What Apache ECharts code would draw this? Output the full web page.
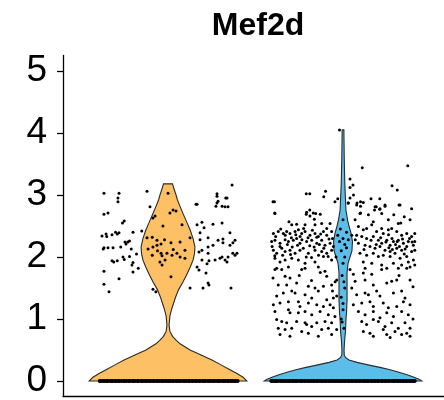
<!DOCTYPE html>
<html>
<head>
<meta charset="utf-8">
<script src="https://cdn.jsdelivr.net/npm/echarts@6/dist/echarts.min.js"></script>
<style>
  html, body { margin: 0; padding: 0; background: #fff; }
  #chart { width: 444px; height: 400px; }
</style>
</head>
<body>
<div id="chart"></div>
<script>
const geneName = 'Mef2d';
const groups = ['0', '1'];
const groupColors = ['#FEC064', '#5BBDE9'];
const yTicks = [0, 1, 2, 3, 4, 5];

// violin outline: [expression, half width in category units]
const grp1Violin = [
  [3.18, 0.026], [3.1, 0.034], [3.0, 0.046], [2.92, 0.054], [2.8, 0.071], [2.68, 0.089],
  [2.55, 0.109], [2.44, 0.126], [2.3, 0.143], [2.16, 0.154], [2.05, 0.151], [1.95, 0.143],
  [1.85, 0.129], [1.71, 0.106], [1.6, 0.086], [1.47, 0.06], [1.35, 0.043], [1.23, 0.029],
  [1.15, 0.02], [1.05, 0.011], [0.9, 0.006], [0.8, 0.011], [0.72, 0.026], [0.66, 0.046],
  [0.6, 0.069], [0.5, 0.126], [0.42, 0.189], [0.34, 0.251], [0.26, 0.303], [0.18, 0.354],
  [0.12, 0.394], [0.06, 0.429], [0.03, 0.44], [0, 0.45]
];
const grp2Violin = [
  [4.05, 0.005], [3.6, 0.007], [3.2, 0.01], [3.0, 0.013], [2.75, 0.017], [2.6, 0.026],
  [2.5, 0.034], [2.38, 0.046], [2.25, 0.054], [2.1, 0.051], [2.0, 0.04], [1.9, 0.029],
  [1.75, 0.023], [1.5, 0.023], [1.3, 0.023], [1.1, 0.02], [1.0, 0.017], [0.8, 0.014],
  [0.65, 0.009], [0.5, 0.006], [0.42, 0.007], [0.38, 0.014], [0.34, 0.034], [0.3, 0.08],
  [0.26, 0.143], [0.22, 0.211], [0.18, 0.269], [0.14, 0.32], [0.1, 0.366], [0.06, 0.406],
  [0.03, 0.434], [0, 0.45]
];

// jittered cells: [jitter, expression]
const grp1Cells = [
  [-0.366, 3.03], [-0.28, 3.03], [-0.286, 2.95], [-0.12, 3.06], [0.0, 3.03], [0.28, 3.02],
  [0.33, 2.95], [0.366, 3.16], [-0.286, 2.89], [0.166, 2.85], [0.28, 2.87], [0.343, 2.81],
  [0.274, 2.82], [-0.366, 2.69], [-0.343, 2.71], [-0.25, 2.58], [-0.26, 2.55], [-0.3, 2.4],
  [-0.28, 2.39], [-0.2, 2.4], [-0.377, 2.34], [-0.354, 2.37], [-0.246, 2.24], [-0.23, 2.24],
  [-0.366, 2.15], [-0.343, 2.15], [-0.314, 2.15], [-0.21, 2.13], [-0.18, 2.05], [-0.32, 1.94],
  [-0.29, 1.94], [-0.257, 2.0], [-0.206, 1.87], [-0.17, 1.82], [-0.2, 1.76], [-0.366, 1.77],
  [-0.28, 1.65], [-0.366, 1.56], [-0.337, 1.44], [-0.086, 1.48], [-0.069, 1.44],
  [-0.086, 2.63], [-0.074, 2.66], [0.011, 2.71], [0.029, 2.76], [0.046, 2.74], [0.08, 2.52],
  [-0.029, 2.5], [-0.12, 2.31], [-0.09, 2.32], [-0.063, 2.27], [-0.04, 2.21], [0.017, 2.23],
  [0.069, 2.24], [0.126, 2.31], [-0.114, 2.13], [-0.086, 2.16], [-0.063, 2.19], [-0.09, 2.03],
  [-0.04, 2.06], [-0.034, 2.02], [-0.006, 2.06], [0.023, 2.03], [0.051, 2.06], [0.097, 2.11],
  [-0.046, 1.92], [-0.017, 1.95], [-0.034, 1.87], [0.017, 1.68], [0.069, 2.0], [0.097, 1.98],
  [0.194, 2.56], [0.206, 2.47], [0.183, 2.39], [0.257, 2.53], [0.309, 2.55], [0.354, 2.39],
  [0.383, 2.27], [0.371, 2.23], [0.314, 2.29], [0.257, 2.19], [0.229, 2.16], [0.194, 2.11],
  [0.177, 2.08], [0.269, 1.95], [0.297, 1.98], [0.326, 1.95], [0.343, 2.0], [0.383, 2.03],
  [0.394, 2.06], [0.234, 1.94], [0.166, 1.84], [0.223, 1.89], [0.217, 1.74], [0.177, 1.79],
  [0.234, 1.55], [0.126, 1.5], [0.36, 1.5], [0.28, 2.98], [0.286, 2.9], [0.309, 2.82],
  [0.326, 2.81], [0.337, 2.95], [0.16, 2.85], [-0.103, 2.81], [-0.35, 2.33], [-0.32, 2.36],
  [-0.29, 2.37], [-0.37, 2.13], [-0.27, 2.16], [-0.24, 2.21], [-0.22, 2.01], [-0.31, 1.92],
  [-0.25, 1.96], [-0.2, 1.91], [-0.22, 2.26], [-0.15, 2.42], [0.166, 2.52], [0.183, 2.28],
  [0.229, 2.31], [0.286, 2.27], [0.314, 2.23], [0.354, 2.19], [0.37, 2.06], [0.337, 1.92],
  [0.309, 2.0], [0.229, 2.06], [0.194, 1.95], [0.229, 1.58], [0.2, 1.5], [-0.06, 2.1],
  [0.03, 2.12], [-0.02, 2.28]
];
const grp1Zeros = [
  -0.39, -0.383, -0.371, -0.362, -0.35, -0.344, -0.331, -0.322, -0.315, -0.303, -0.296, -0.284,
  -0.277, -0.265, -0.252, -0.247, -0.236, -0.224, -0.218, -0.205, -0.196, -0.188, -0.176, -0.169,
  -0.155, -0.148, -0.137, -0.126, -0.119, -0.107, -0.098, -0.086, -0.079, -0.066, -0.058, -0.047,
  -0.035, -0.028, -0.016, -0.006, 0.004, 0.013, 0.025, 0.032, 0.045, 0.053, 0.064, 0.073, 0.086,
  0.094, 0.105, 0.117, 0.124, 0.137, 0.143, 0.156, 0.165, 0.177, 0.184, 0.197, 0.206, 0.215,
  0.228, 0.236, 0.247, 0.258, 0.267, 0.279, 0.288, 0.297, 0.309, 0.318, 0.327, 0.339, 0.346,
  0.358, 0.367, 0.378, 0.386, 0.398
];
const grp2Cells = [
  [-0.02, 4.05], [0.11, 3.44], [0.37, 3.47], [0.04, 3.26], [0.057, 3.16], [0.04, 3.12],
  [0.28, 3.15], [0.31, 3.08], [-0.21, 3.02], [-0.19, 3.02], [-0.1, 3.06], [-0.11, 2.97],
  [-0.03, 2.94], [0.06, 3.0], [0.04, 2.95], [0.1, 2.89], [0.16, 2.94], [0.21, 2.94],
  [-0.4, 2.89], [-0.39, 2.71], [0.03, 2.87], [0.08, 2.87], [0.1, 2.82], [0.19, 2.81],
  [0.24, 2.84], [0.32, 2.84], [-0.19, 2.76], [-0.17, 2.71], [-0.13, 2.69], [-0.21, 2.69],
  [0.1, 2.71], [0.18, 2.76], [0.21, 2.77], [0.29, 2.68], [0.33, 2.55], [0.35, 2.65],
  // upper band, left side
  [-0.392, 2.89], [-0.046, 2.89], [-0.389, 2.7], [-0.208, 2.72], [-0.189, 2.66], [-0.156, 2.7],
  [-0.164, 2.61], [-0.309, 2.57], [-0.293, 2.52], [-0.265, 2.53], [-0.217, 2.52], [-0.16, 2.52],
  [-0.122, 2.54], [-0.093, 2.46], [-0.074, 2.54], [-0.398, 2.38], [-0.37, 2.41], [-0.341, 2.38],
  [-0.322, 2.41], [-0.303, 2.38], [-0.274, 2.41], [-0.255, 2.44], [-0.236, 2.38], [-0.217, 2.41],
  [-0.189, 2.35], [-0.16, 2.38], [-0.141, 2.33], [-0.112, 2.41], [-0.093, 2.35], [-0.065, 2.41],
  [-0.408, 2.25], [-0.389, 2.27], [-0.36, 2.22], [-0.331, 2.28], [-0.312, 2.25], [-0.284, 2.27],
  [-0.265, 2.3], [-0.246, 2.22], [-0.208, 2.25], [-0.179, 2.27], [-0.15, 2.22], [-0.122, 2.27],
  [-0.103, 2.19], [-0.074, 2.22], [-0.055, 2.17], [-0.398, 2.11], [-0.379, 2.06], [-0.35, 2.14],
  [-0.331, 2.09], [-0.303, 2.11], [-0.274, 2.06], [-0.246, 2.11], [-0.227, 2.14], [-0.198, 2.06],
  [-0.16, 2.11], [-0.122, 2.09], [-0.093, 2.06], [-0.065, 2.11], [-0.389, 1.98], [-0.36, 1.92],
  [-0.331, 1.95], [-0.293, 1.98], [-0.255, 1.95], [-0.217, 1.9], [-0.16, 1.92], [-0.112, 2.01],
  [-0.065, 1.95], [-0.379, 1.82], [-0.312, 1.84], [-0.217, 1.82], [-0.141, 1.84],
  [-0.385, 2.33], [-0.356, 2.45], [-0.33, 2.35], [-0.295, 2.31], [-0.27, 2.36], [-0.245, 2.33],
  [-0.225, 2.46], [-0.2, 2.31], [-0.175, 2.43], [-0.15, 2.32], [-0.128, 2.37], [-0.08, 2.29],
  [-0.405, 2.17], [-0.36, 2.17], [-0.318, 2.2], [-0.29, 2.16], [-0.26, 2.19], [-0.235, 2.28],
  [-0.19, 2.18], [-0.165, 2.16], [-0.135, 2.2], [-0.11, 2.14], [-0.06, 2.3], [-0.39, 2.02],
  [-0.345, 2.03], [-0.3, 2.04], [-0.21, 2.0], [-0.18, 1.99], [-0.14, 2.03], [-0.085, 2.01],
  // upper band, right side
  [0.03, 2.87], [0.078, 2.84], [0.116, 2.88], [0.183, 2.81], [0.211, 2.78], [0.24, 2.82],
  [0.326, 2.84], [0.392, 2.78], [0.097, 2.7], [0.145, 2.68], [0.221, 2.7], [0.383, 2.6],
  [0.069, 2.6], [0.173, 2.57], [0.259, 2.6], [0.316, 2.54], [0.088, 2.49], [0.116, 2.44],
  [0.135, 2.46], [0.164, 2.52], [0.192, 2.41], [0.221, 2.46], [0.23, 2.38], [0.259, 2.44],
  [0.278, 2.46], [0.307, 2.41], [0.335, 2.35], [0.364, 2.38], [0.392, 2.33], [0.41, 2.38],
  [0.078, 2.35], [0.107, 2.33], [0.135, 2.3], [0.173, 2.33], [0.202, 2.27], [0.221, 2.22],
  [0.25, 2.27], [0.269, 2.19], [0.288, 2.25], [0.316, 2.27], [0.345, 2.22], [0.373, 2.25],
  [0.402, 2.19], [0.41, 2.25], [0.088, 2.22], [0.126, 2.19], [0.154, 2.17], [0.183, 2.14],
  [0.211, 2.17], [0.24, 2.11], [0.269, 2.09], [0.307, 2.14], [0.335, 2.11], [0.364, 2.17],
  [0.392, 2.09], [0.41, 2.11], [0.097, 2.06], [0.135, 2.03], [0.173, 2.06], [0.202, 2.01],
  [0.23, 2.03], [0.269, 2.01], [0.297, 2.06], [0.326, 1.98], [0.364, 2.01], [0.402, 1.95],
  [0.116, 1.92], [0.164, 1.9], [0.221, 1.87], [0.288, 1.9], [0.335, 1.87], [0.373, 1.92],
  [0.41, 1.87], [0.126, 1.82], [0.25, 1.82], [0.316, 1.82], [0.383, 1.84],
  [0.245, 2.24], [0.262, 2.15], [0.28, 2.3], [0.3, 2.2], [0.322, 2.17], [0.34, 2.29],
  [0.355, 2.13], [0.38, 2.3], [0.395, 2.24], [0.282, 2.12], [0.31, 2.25], [0.215, 2.31],
  [0.16, 2.27], [0.12, 2.12], [0.07, 2.28], [0.19, 2.2], [0.35, 2.05], [0.26, 2.36],
  // lower region, left side
  [-0.389, 1.8], [-0.35, 1.8], [-0.236, 1.8], [-0.103, 1.77], [-0.331, 1.69], [-0.303, 1.66],
  [-0.093, 1.69], [-0.37, 1.55], [-0.322, 1.55], [-0.265, 1.58], [-0.198, 1.53], [-0.16, 1.5],
  [-0.112, 1.53], [-0.065, 1.55], [-0.036, 1.63], [-0.379, 1.37], [-0.341, 1.42], [-0.293, 1.45],
  [-0.274, 1.42], [-0.217, 1.39], [-0.179, 1.34], [-0.141, 1.45], [-0.093, 1.31], [-0.055, 1.34],
  [-0.036, 1.37], [-0.398, 1.23], [-0.36, 1.26], [-0.312, 1.28], [-0.255, 1.28], [-0.246, 1.2],
  [-0.198, 1.26], [-0.15, 1.23], [-0.112, 1.2], [-0.074, 1.23], [-0.055, 1.18], [-0.389, 1.12],
  [-0.312, 1.15], [-0.303, 1.1], [-0.255, 1.1], [-0.217, 1.12], [-0.179, 1.07], [-0.131, 1.12],
  [-0.084, 1.07], [-0.046, 1.04], [-0.379, 0.99], [-0.35, 0.96], [-0.322, 0.94], [-0.265, 0.96],
  [-0.217, 0.94], [-0.208, 0.91], [-0.15, 0.94], [-0.103, 0.96], [-0.065, 0.94], [-0.37, 0.85],
  [-0.331, 0.83], [-0.293, 0.85], [-0.236, 0.8], [-0.179, 0.88], [-0.122, 0.83], [-0.084, 0.85],
  [-0.036, 0.83], [-0.36, 0.75], [-0.303, 0.72], [-0.198, 0.77], [-0.141, 0.72], [-0.065, 0.75],
  [-0.18, 1.62], [-0.25, 1.7], [-0.4, 1.66], [-0.13, 1.75], [-0.06, 1.45],
  // lower region, right side
  [0.059, 1.72], [0.116, 1.74], [0.164, 1.72], [0.221, 1.8], [0.364, 1.82], [0.069, 1.61],
  [0.126, 1.63], [0.173, 1.55], [0.25, 1.58], [0.278, 1.61], [0.307, 1.63], [0.383, 1.63],
  [0.078, 1.39], [0.126, 1.42], [0.145, 1.39], [0.192, 1.45], [0.211, 1.37], [0.288, 1.42],
  [0.335, 1.45], [0.354, 1.34], [0.059, 1.23], [0.107, 1.26], [0.154, 1.28], [0.173, 1.2],
  [0.23, 1.26], [0.259, 1.18], [0.307, 1.2], [0.345, 1.28], [0.383, 1.23], [0.088, 1.12],
  [0.126, 1.07], [0.173, 1.12], [0.211, 1.02], [0.25, 1.1], [0.288, 1.04], [0.335, 1.12],
  [0.373, 1.07], [0.107, 0.96], [0.135, 0.91], [0.173, 0.99], [0.202, 0.96], [0.24, 0.88],
  [0.278, 0.94], [0.316, 0.85], [0.354, 0.94], [0.383, 0.85], [0.116, 0.8], [0.154, 0.77],
  [0.23, 0.83], [0.25, 0.75], [0.297, 0.8], [0.335, 0.75], [0.364, 0.77], [0.383, 0.72],
  [0.173, 0.72], [0.269, 0.7], [0.4, 1.52], [0.32, 1.7], [0.05, 1.5], [0.4, 1.0],
  // on the stem
  [0.0, 2.3], [0.01, 2.2], [-0.01, 2.1], [0.02, 2.4], [0.0, 1.9], [-0.005, 1.7], [0.01, 1.5],
  [0.0, 1.25], [-0.01, 1.0], [0.005, 0.85], [0.01, 2.0], [-0.02, 2.25], [0.02, 2.15],
  [-0.03, 2.35], [0.03, 2.28], [-0.01, 1.35], [0.005, 1.6], [0.0, 2.6], [-0.005, 0.95],
  [-0.015, 2.45], [0.0, 1.15], [-0.04, 2.0], [0.04, 1.8], [-0.045, 1.6], [0.05, 2.35]
];
const grp2Zeros = [
  -0.41, -0.401, -0.39, -0.382, -0.373, -0.36, -0.352, -0.341, -0.333, -0.322, -0.311, -0.304,
  -0.292, -0.283, -0.271, -0.264, -0.252, -0.241, -0.233, -0.222, -0.214, -0.201, -0.193, -0.182,
  -0.171, -0.163, -0.151, -0.144, -0.132, -0.121, -0.113, -0.102, -0.094, -0.081, -0.073, -0.062,
  -0.051, -0.043, -0.032, -0.021, -0.012, -0.003, 0.008, 0.017, 0.029, 0.036, 0.048, 0.057,
  0.069, 0.076, 0.088, 0.097, 0.108, 0.119, 0.127, 0.138, 0.146, 0.159, 0.167, 0.178, 0.187,
  0.198, 0.206, 0.219, 0.227, 0.238, 0.247, 0.258, 0.266, 0.279, 0.288, 0.297, 0.309, 0.317,
  0.328, 0.339, 0.347, 0.358, 0.366, 0.378, 0.387, 0.396, 0.404, 0.41
];

const violins = [grp1Violin, grp2Violin];
const cells = [grp1Cells, grp2Cells];
const zeros = [grp1Zeros, grp2Zeros];

const chart = echarts.init(document.getElementById('chart'), null, { renderer: 'canvas' });
const font = "'Liberation Sans', Arial, sans-serif";

const cellData = [];
const zeroData = [];
groups.forEach((g, gi) => {
  zeros[gi].forEach((j) => zeroData.push([gi + 1 + j, 0]));
  cells[gi].forEach(([j, v]) => cellData.push([gi + 1 + j, v]));
});

chart.setOption({
  animation: false,
  backgroundColor: '#fff',
  title: {
    text: geneName,
    left: 253,
    top: 5,
    textAlign: 'center',
    textStyle: { fontFamily: font, fontSize: 32, fontWeight: 'bold', color: '#000' }
  },
  grid: { left: 63, right: 0, top: 55.5, bottom: 3.5 },
  xAxis: {
    type: 'value',
    min: 0.4,
    max: 2.577,
    axisLine: { onZero: false, lineStyle: { color: '#000', width: 1.3 } },
    axisTick: { show: false },
    axisLabel: { show: false },
    splitLine: { show: false }
  },
  yAxis: {
    type: 'value',
    min: -0.25,
    max: 5.25,
    axisLine: { show: true, onZero: false, lineStyle: { color: '#000', width: 1.3 } },
    axisTick: { show: true, length: 6, customValues: yTicks, lineStyle: { color: '#000', width: 1.3 } },
    axisLabel: {
      customValues: yTicks,
      fontFamily: font,
      fontSize: 37,
      color: '#000',
      margin: 16
    },
    splitLine: { show: false }
  },
  series: [
    {
      type: 'custom',
      z: 1,
      clip: false,
      data: groups.map((g, gi) => [gi]),
      renderItem: (params, api) => {
        const gi = api.value(0);
        const prof = violins[gi];
        const cx = gi + 1;
        const right = prof.map(([v, w]) => api.coord([cx + w, v]));
        const left = prof.slice().reverse().map(([v, w]) => api.coord([cx - w, v]));
        return {
          type: 'polygon',
          shape: { points: right.concat(left) },
          style: { fill: groupColors[gi], stroke: '#2b2b2b', lineWidth: 1.1 }
        };
      }
    },
    {
      type: 'scatter',
      z: 5,
      symbol: 'circle',
      symbolSize: 4,
      itemStyle: { color: '#000', opacity: 1 },
      data: zeroData
    },
    {
      type: 'scatter',
      z: 6,
      symbol: 'circle',
      symbolSize: 3,
      itemStyle: { color: '#000', opacity: 1 },
      data: cellData
    }
  ]
});
</script>
</body>
</html>
